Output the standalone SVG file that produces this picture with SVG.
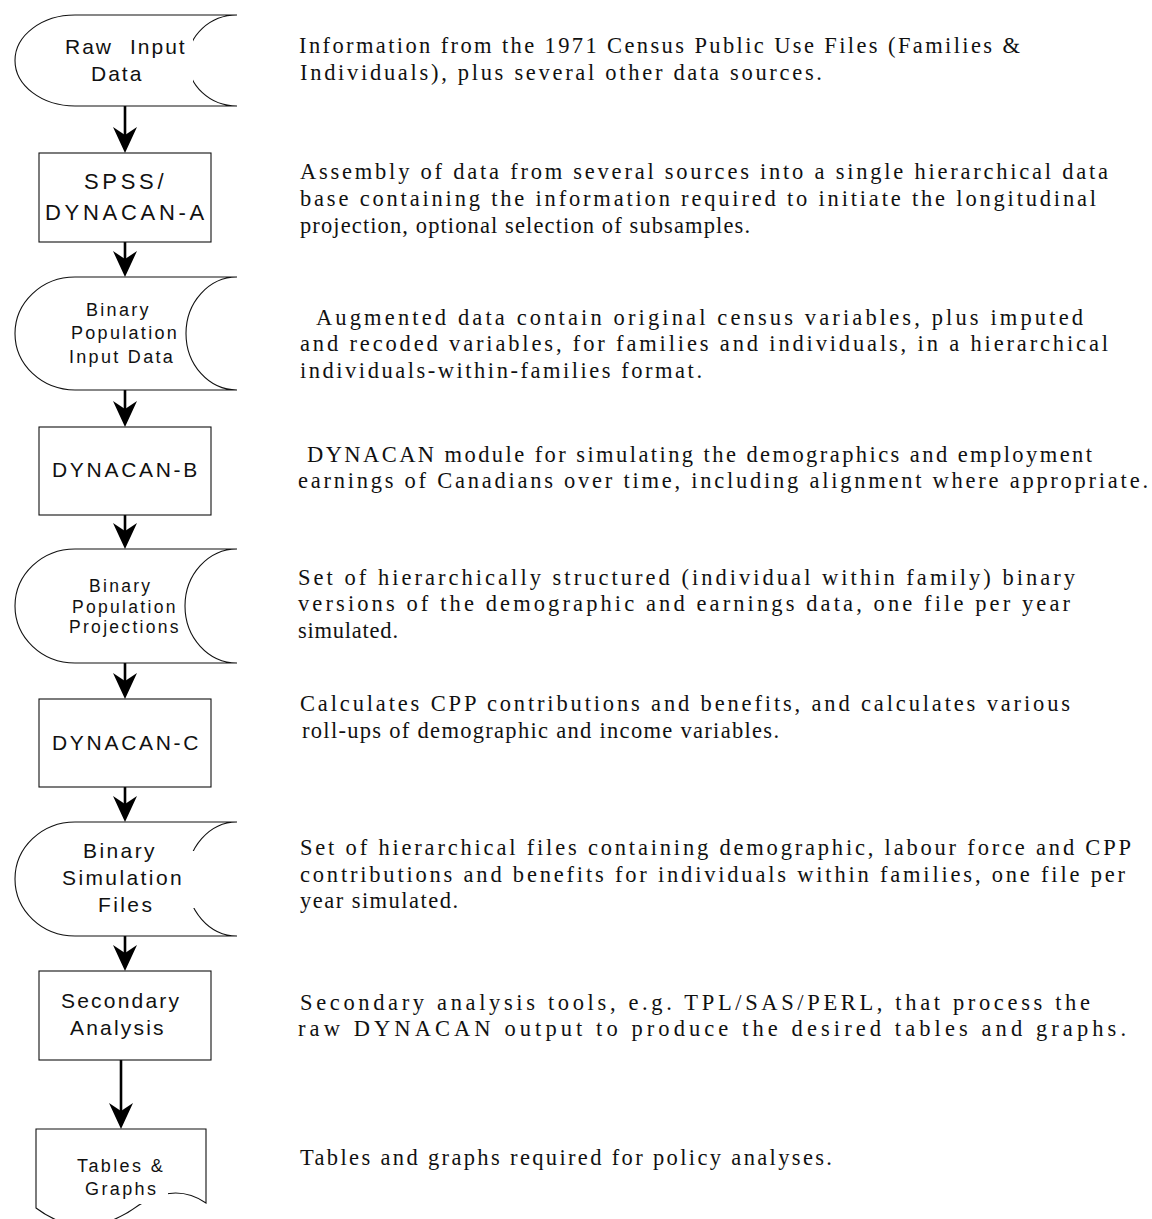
<svg xmlns="http://www.w3.org/2000/svg" width="1152" height="1219" viewBox="0 0 1152 1219">
<style>
.shape{fill:#fff;stroke:#111;stroke-width:1.1}
.lbl{font-family:"Liberation Sans",Arial,sans-serif;fill:#111}
.desc text{font-family:"Liberation Serif","Times New Roman",serif;font-size:22.5px;fill:#111}
.conn{stroke:#000;stroke-width:2.6;fill:none}
.bg{fill:#fff;stroke:none}
</style>
<defs>
<marker id="arr" markerUnits="userSpaceOnUse" viewBox="0 0 26 24" markerWidth="26" markerHeight="24" refX="16" refY="12" orient="auto">
<path d="M0,0 L26,12 L0,24 L8,12 Z" fill="#000"/>
</marker>
</defs>
<rect width="1152" height="1219" fill="#fff"/>

<g id="connectors">
<line class="conn" x1="125" y1="106" x2="125" y2="143" marker-end="url(#arr)"/>
<line class="conn" x1="125" y1="242" x2="125" y2="267" marker-end="url(#arr)"/>
<line class="conn" x1="125" y1="390" x2="125" y2="417" marker-end="url(#arr)"/>
<line class="conn" x1="125" y1="515" x2="125" y2="539" marker-end="url(#arr)"/>
<line class="conn" x1="125" y1="663" x2="125" y2="689" marker-end="url(#arr)"/>
<line class="conn" x1="125" y1="787" x2="125" y2="812" marker-end="url(#arr)"/>
<line class="conn" x1="125" y1="936" x2="125" y2="961" marker-end="url(#arr)"/>
<line class="conn" x1="121" y1="1060" x2="121" y2="1119" marker-end="url(#arr)"/>
</g>

<g id="raw-input-data">
<path class="shape" d="M75,15 H237 A49,45.5 0 0 0 237,106 H75 A60,45.5 0 0 1 75,15 Z"/>
<rect class="bg" x="62" y="37" width="131" height="45"/>
<text class="lbl" font-size="21" letter-spacing="2"><tspan x="65" y="54">Raw</tspan><tspan x="130" y="54">Input</tspan><tspan x="91" y="81">Data</tspan></text>
</g>

<g id="spss-dynacan-a">
<rect class="shape" x="39" y="153" width="172" height="89"/>
<text class="lbl" font-size="22" letter-spacing="3.7"><tspan x="84" y="189">SPSS/</tspan><tspan x="45" y="220">DYNACAN-A</tspan></text>
</g>

<g id="binary-population-input-data">
<path class="shape" d="M75,277 H237 A51,56.5 0 0 0 237,390 H75 A60,56.5 0 0 1 75,277 Z"/>
<text class="lbl" font-size="18" letter-spacing="2.3"><tspan x="86" y="316">Binary</tspan><tspan x="71" y="339">Population</tspan><tspan x="69" y="363">Input Data</tspan></text>
</g>

<g id="dynacan-b">
<rect class="shape" x="39" y="427" width="172" height="88"/>
<text class="lbl" font-size="21" letter-spacing="2.7"><tspan x="52" y="477">DYNACAN-B</tspan></text>
</g>

<g id="binary-population-projections">
<path class="shape" d="M75,549 H237 A52,57 0 0 0 237,663 H75 A60,57 0 0 1 75,549 Z"/>
<text class="lbl" font-size="17.5" letter-spacing="2.3"><tspan x="89" y="592">Binary</tspan><tspan x="72" y="613">Population</tspan><tspan x="69" y="633">Projections</tspan></text>
</g>

<g id="dynacan-c">
<rect class="shape" x="39" y="699" width="172" height="88"/>
<text class="lbl" font-size="21" letter-spacing="2.7"><tspan x="52" y="750">DYNACAN-C</tspan></text>
</g>

<g id="binary-simulation-files">
<path class="shape" d="M75,822 H237 A50,57 0 0 0 237,936 H75 A60,57 0 0 1 75,822 Z"/>
<rect class="bg" x="58" y="851" width="137" height="57"/>
<text class="lbl" font-size="21" letter-spacing="2.4"><tspan x="83" y="858">Binary</tspan><tspan x="62" y="885">Simulation</tspan><tspan x="98" y="912">Files</tspan></text>
</g>

<g id="secondary-analysis">
<rect class="shape" x="39" y="971" width="172" height="89"/>
<text class="lbl" font-size="21" letter-spacing="2.2"><tspan x="61" y="1008">Secondary</tspan><tspan x="70" y="1035">Analysis</tspan></text>
</g>

<g id="tables-graphs">
<path class="shape" d="M36,1129 H206 V1203 C180,1185 155,1195 139,1205 Q85,1245 36,1208 Z"/>
<rect class="bg" x="83" y="1178" width="85" height="26"/>
<text class="lbl" font-size="18" letter-spacing="2.4"><tspan x="77" y="1172">Tables &amp;</tspan><tspan x="85" y="1195">Graphs</tspan></text>
</g>

<g id="descriptions" class="desc">
<g id="desc-raw">
<text x="299" y="53" textLength="721" lengthAdjust="spacing">Information from the 1971 Census Public Use Files (Families &amp;</text>
<text x="300" y="80" textLength="522" lengthAdjust="spacing">Individuals), plus several other data sources.</text>
</g>
<g id="desc-spss">
<text x="300" y="179" textLength="808" lengthAdjust="spacing">Assembly of data from several sources into a single hierarchical data</text>
<text x="300" y="206" textLength="796" lengthAdjust="spacing">base containing the information required to initiate the longitudinal</text>
<text x="300" y="233" textLength="450" lengthAdjust="spacing">projection, optional selection of subsamples.</text>
</g>
<g id="desc-binpop">
<text x="316" y="325" textLength="767" lengthAdjust="spacing">Augmented data contain original census variables, plus imputed</text>
<text x="300" y="351" textLength="808" lengthAdjust="spacing">and recoded variables, for families and individuals, in a hierarchical</text>
<text x="300" y="378" textLength="402" lengthAdjust="spacing">individuals-within-families format.</text>
</g>
<g id="desc-b">
<text x="307" y="462" textLength="785" lengthAdjust="spacing">DYNACAN module for simulating the demographics and employment</text>
<text x="298" y="488" textLength="850" lengthAdjust="spacing">earnings of Canadians over time, including alignment where appropriate.</text>
</g>
<g id="desc-proj">
<text x="298" y="585" textLength="777" lengthAdjust="spacing">Set of hierarchically structured (individual within family) binary</text>
<text x="298" y="611" textLength="772" lengthAdjust="spacing">versions of the demographic and earnings data, one file per year</text>
<text x="298" y="638" textLength="100" lengthAdjust="spacing">simulated.</text>
</g>
<g id="desc-c">
<text x="300" y="711" textLength="770" lengthAdjust="spacing">Calculates CPP contributions and benefits, and calculates various</text>
<text x="302" y="738" textLength="477" lengthAdjust="spacing">roll-ups of demographic and income variables.</text>
</g>
<g id="desc-sim">
<text x="300" y="855" textLength="831" lengthAdjust="spacing">Set of hierarchical files containing demographic, labour force and CPP</text>
<text x="300" y="882" textLength="825" lengthAdjust="spacing">contributions and benefits for individuals within families, one file per</text>
<text x="300" y="908" textLength="158" lengthAdjust="spacing">year simulated.</text>
</g>
<g id="desc-sec">
<text x="300" y="1010" textLength="790" lengthAdjust="spacing">Secondary analysis tools, e.g. TPL/SAS/PERL, that process the</text>
<text x="298" y="1036" textLength="828" lengthAdjust="spacing">raw DYNACAN output to produce the desired tables and graphs.</text>
</g>
<g id="desc-tables">
<text x="300" y="1165" textLength="532" lengthAdjust="spacing">Tables and graphs required for policy analyses.</text>
</g>
</g>
</svg>
